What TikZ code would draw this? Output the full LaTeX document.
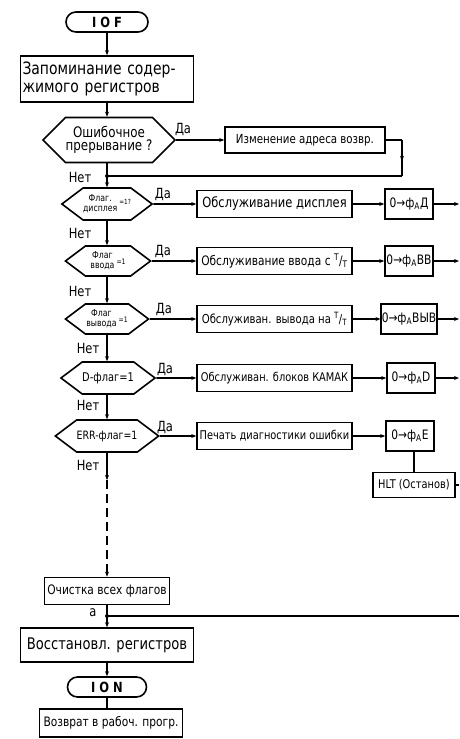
\documentclass[tikz,border=0pt]{standalone}
\usepackage{fontspec}
\setmainfont{DejaVu Sans}[FakeStretch=0.82]
\usetikzlibrary{shapes.symbols,shapes.misc,arrows.meta,decorations.markings}
\begin{document}
\begin{tikzpicture}[x=1pt,y=-1pt,
  every node/.style={font=\fontsize{12}{13}\selectfont},
  ln/.style={line width=1.6pt},
  arr/.style={ln,-{Stealth[length=5pt,width=4pt]}},
  midarr/.style={ln,postaction={decorate},decoration={markings,mark=at position 0.6 with {\arrow{Stealth[length=6pt,width=4pt]}}}},
  proc/.style={draw,ln,rectangle,inner sep=1pt},
  term/.style={draw,ln,rounded rectangle,minimum width=84pt,minimum height=20pt,inner sep=1pt,font=\fontsize{14}{14}\selectfont\bfseries},
  dec/.style={draw,ln,signal,signal to=east and west,inner sep=0pt,signal pointer angle=74},
  mid/.style={proc,minimum width=155pt,minimum height=27pt},
  rbox/.style={proc,minimum width=48pt,minimum height=30pt,inner sep=0.5pt,font=\fontsize{13}{13}\selectfont},
  lbl/.style={inner sep=0pt,font=\fontsize{14}{14}\selectfont},
  small/.style={font=\fontsize{9.5}{9}\selectfont},
]
\useasboundingbox (0,0) rectangle (459,739);

% main column
\node[term] (iof) at (107,22) {I O F};
\node[proc,minimum width=173pt,minimum height=46pt,text width=169pt,align=left,font=\fontsize{17}{18}\selectfont] (mem) at (107,79) {Запоминание содер-\\жимого регистров};
\node[dec,signal pointer angle=90,minimum width=128pt,minimum height=45pt,align=center,font=\fontsize{14.5}{13}\selectfont] (d1) at (109,140) {Ошибочное\\прерывание ?};
\node[proc,minimum width=160pt,minimum height=26pt,font=\fontsize{12.5}{13}\selectfont] (chg) at (305,140) {Изменение адреса возвр.};
\coordinate (c1) at (402,140);
\coordinate (c2) at (402,176);
\coordinate (j1) at (107,176);

\node[dec,minimum width=83pt,minimum height=32pt,small] (d2) at (107,204) {\shortstack{Флаг.\\[1.5pt]дисплея}\hspace{2pt}\raisebox{7pt}{\fontsize{7}{7}\selectfont =1?}};
\node[mid,font=\fontsize{14}{14}\selectfont] (m2) at (274.5,204) {Обслуживание дисплея};
\node[rbox] (r2) at (409,204) {0→ф\textsubscript{А}Д};
\coordinate (e2) at (459,204);

\node[dec,minimum width=85pt,minimum height=30pt,small] (d3) at (108,261) {\shortstack{Флаг\\[1.5pt]ввода}\hspace{2pt}\raisebox{4pt}{\fontsize{7.5}{7}\selectfont =1}};
\node[mid,font=\fontsize{13}{13}\selectfont] (m3) at (274.5,261) {Обслуживание ввода с \textsuperscript{Т}/\textsubscript{Т}};
\node[rbox] (r3) at (409,261) {0→ф\textsubscript{А}ВВ};
\coordinate (e3) at (459,261);

\node[dec,minimum width=83pt,minimum height=30pt,small] (d4) at (107,319) {\shortstack{Флаг\\[1.5pt]вывода}\hspace{2pt}\raisebox{4pt}{\fontsize{7.5}{7}\selectfont =1}};
\node[mid,font=\fontsize{12.3}{13}\selectfont] (m4) at (274.5,319) {Обслуживан. вывода на \textsuperscript{Т}/\textsubscript{Т}};
\node[rbox] (r4) at (409,319) {0→ф\textsubscript{А}ВЫВ};
\coordinate (e4) at (459,319);

\node[dec,minimum width=87pt,minimum height=32pt,font=\fontsize{12}{12}\selectfont] (d5) at (108,378) {D-флаг=1};
\node[mid] (m5) at (274.5,378) {Обслуживан. блоков КАМАК};
\node[rbox] (r5) at (411,378) {0→ф\textsubscript{А}D};
\coordinate (e5) at (459,378);

\node[dec,minimum width=89pt,minimum height=32pt,font=\fontsize{11.5}{12}\selectfont] (d6) at (107,436) {ERR-флаг=1};
\node[mid] (m6) at (274.5,436) {Печать диагностики ошибки};
\node[rbox] (r6) at (410,436) {0→ф\textsubscript{А}E};
\node[proc,minimum width=82pt,minimum height=25pt,inner sep=1pt] (hlt) at (414,485) {HLT (Останов)};
\coordinate (eh) at (459,485);

\coordinate (ds) at (107,480);
\node[proc,minimum width=125pt,minimum height=27pt,font=\fontsize{13}{13}\selectfont] (clr) at (107,591) {Очистка всех флагов};
\coordinate (jA) at (107,616);
\coordinate (eA) at (459,616);
\node[proc,minimum width=173pt,minimum height=34pt,font=\fontsize{16}{17}\selectfont] (rst) at (107,645) {Восстановл. регистров};
\node[term,minimum width=81pt] (ion) at (107,687) {I O N};
\node[proc,minimum width=143pt,minimum height=28pt,font=\fontsize{13}{13}\selectfont] (ret) at (111,723) {Возврат в рабоч. прогр.};

% labels
\node[lbl] (da1) at (183,129) {Да};
\node[lbl] (da2) at (163,194) {Да};
\node[lbl] (da3) at (163,251) {Да};
\node[lbl] (da4) at (164,309) {Да};
\node[lbl] (da5) at (165,369) {Да};
\node[lbl] (da6) at (165,427) {Да};
\node[lbl] (n1) at (80,177) {Нет};
\node[lbl] (n2) at (80,233) {Нет};
\node[lbl] (n3) at (80,291) {Нет};
\node[lbl] (n4) at (88,348) {Нет};
\node[lbl] (n5) at (88,405) {Нет};
\node[lbl] (n6) at (88,465) {Нет};
\node[lbl] (la) at (93,613) {а};

% connectors
\draw[arr] (iof) -- (mem);
\draw[arr] (mem.south) -- (mem.south |- d1.north);
\draw[arr] (d1) -- (chg);
\draw[ln] (chg) -- (c1);
\draw[midarr] (c1) -- (c2);
\draw[ln] (c2) -- (j1);
\draw[ln] (d1.south -| j1) -- (j1);
\fill (j1) circle (2pt);
\draw[arr] (j1) -- (d2.north);
\draw[arr] (d2) -- (m2);
\draw[arr] (m2) -- (r2);
\draw[arr] (r2) -- (e2);
\draw[arr] (d2.south) -- (d2.south |- d3.north);
\draw[arr] (d3) -- (m3);
\draw[arr] (m3) -- (r3);
\draw[arr] (r3) -- (e3);
\draw[arr] (d3.south -| d4) -- (d4.north);
\draw[arr] (d4) -- (m4);
\draw[arr] (m4) -- (r4);
\draw[arr] (r4) -- (e4);
\draw[arr] (d4.south) -- (d4.south |- d5.north);
\draw[arr] (d5) -- (m5);
\draw[arr] (m5) -- (r5);
\draw[arr] (r5) -- (e5);
\draw[arr] (d5.south -| d6) -- (d6.north);
\draw[arr] (d6) -- (m6);
\draw[arr] (m6) -- (r6);
\draw[ln] (r6.south -| hlt) -- (hlt.north);
\draw[ln] (hlt) -- (eh);
\draw[arr] (d6.south) -- (ds);
\draw[arr,dash pattern=on 9pt off 5pt] (ds) -- (clr.north);
\draw[ln] (eA) -- (jA);
\draw[arr] (clr) -- (rst);
\fill (jA) circle (2pt);
\draw[arr] (rst) -- (ion);
\draw[ln] (ion.south) -- (ion.south |- ret.north);
\end{tikzpicture}
\end{document}
